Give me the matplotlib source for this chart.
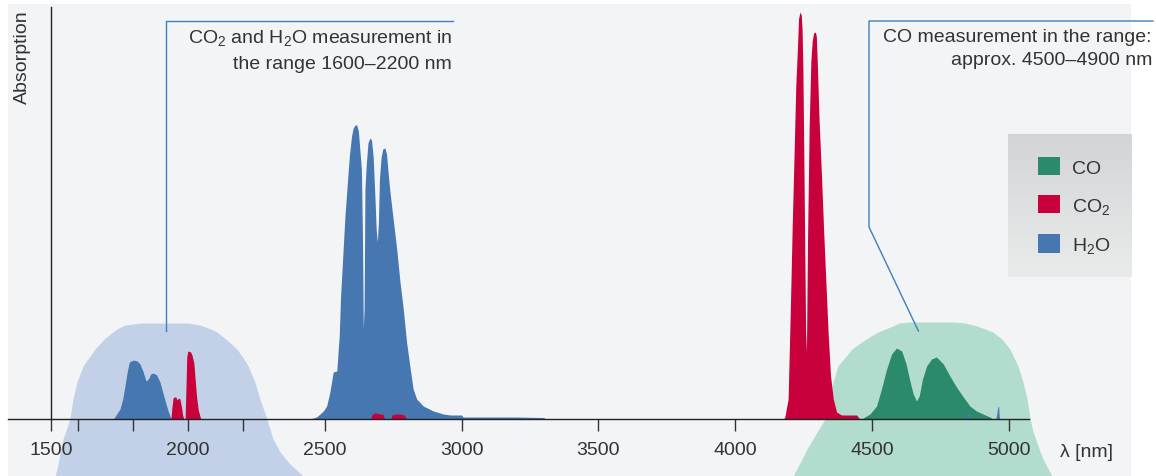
import numpy as np
import matplotlib
matplotlib.use("Agg")
import matplotlib.pyplot as plt
from matplotlib.patches import Rectangle, Patch
from matplotlib.colors import LinearSegmentedColormap

plt.rcParams['font.family'] = ['Liberation Sans', 'DejaVu Sans']
plt.rcParams['mathtext.fontset'] = 'custom'
plt.rcParams['mathtext.rm'] = 'Liberation Sans'
plt.rcParams['mathtext.default'] = 'regular'

# ---------------- data (wavelength in nm, absorption in arbitrary units) ----------------
h2o_wl = [1728, 1740, 1752, 1762, 1770, 1779, 1786, 1801, 1815, 1825, 1837, 1847, 1856, 1864,
          1874, 1886, 1898, 1908, 1918, 1929, 1938, 1941,
          2445, 2470, 2483, 2495, 2507, 2519, 2525, 2531, 2544, 2553, 2558, 2566, 2574, 2583,
          2590, 2598, 2604, 2611, 2617, 2623, 2629, 2634, 2638, 2641, 2644, 2647, 2652, 2658,
          2665, 2671, 2677, 2683, 2688, 2692, 2696, 2700, 2706, 2712, 2720, 2726, 2732, 2738,
          2750, 2763, 2775, 2787, 2799, 2811, 2823, 2836, 2860, 2897, 2933, 2960, 3000, 3005,
          3100, 3200, 3300, 3306,
          4685, 4688, 4691, 4782, 4788, 4793, 4842, 4848, 4851, 4855, 4894, 4899, 4903,
          4952, 4956, 4959, 4962, 4965]
h2o_abs = [0, 5, 10, 20, 33, 48, 57, 59, 58, 55, 47, 38, 40, 45,
           46, 44, 37, 27, 17, 7, 1, 0,
           0, 2, 5, 8, 13, 27, 37, 47, 48, 83, 123, 163, 203, 237,
           263, 283, 291, 294, 294, 288, 267, 250, 180, 90, 110, 230, 255, 276,
           281, 279, 262, 225, 190, 177, 195, 240, 262, 270, 271, 265, 245, 228,
           200, 170, 137, 110, 77, 53, 30, 20, 13, 8, 5, 4, 4, 2,
           2, 2, 1.5, 0,
           0, 2, 0, 0, 3, 0, 0, 5, 7, 0, 0, 6, 0,
           0, 6, 12, 13, 0]

co2_wl = [1938, 1942, 1946, 1951, 1956, 1961, 1966, 1971, 1976, 1981, 1985,
          1990, 1993, 1996, 2000, 2010, 2015, 2022, 2027, 2032, 2038, 2045, 2048,
          2668, 2672, 2680, 2690, 2700, 2712, 2719, 2742, 2746, 2760, 2775, 2790, 2799,
          4176, 4181, 4193, 4202, 4208, 4215, 4221, 4227, 4231, 4236, 4241, 4244, 4247, 4252,
          4257, 4260, 4264, 4270, 4276, 4281, 4286, 4292, 4296, 4300, 4306, 4315, 4323, 4331,
          4339, 4348, 4358, 4370, 4388, 4443, 4455]
co2_abs = [0, 12, 21, 22, 22, 19, 21, 20, 13, 4, 0,
           0, 30, 62, 68, 67, 64, 56, 38, 22, 9, 2, 0,
           0, 4, 6, 6, 5, 5, 0, 0, 4, 5, 5, 4, 0,
           0, 2, 20, 120, 193, 267, 333, 370, 400, 407, 404, 390, 350, 220,
           87, 67, 180, 293, 357, 378, 386, 387, 383, 353, 300, 243, 187, 137,
           87, 43, 20, 7, 4, 4, 0]

co_wl = [4461, 4492, 4516, 4534, 4553, 4571, 4589, 4608, 4624, 4638, 4650, 4662, 4672, 4684,
         4699, 4717, 4735, 4760, 4784, 4808, 4833, 4857, 4881, 4905, 4930, 4942]
co_abs = [0, 5, 13, 30, 50, 65, 71, 68, 55, 38, 25, 18, 23, 40,
          53, 60, 62, 55, 43, 32, 22, 13, 8, 5, 2, 0]

# measurement bands (outline: height, left / right wavelength)
blue_h = [96, 95, 94, 90, 87, 80, 70, 60, 53, 37, 20, 0, -20, -33, -45, -57]
blue_l = [1830, 1800, 1770, 1741, 1726, 1694, 1661, 1635, 1617, 1595, 1580, 1569, 1544, 1533, 1526, 1515]
blue_r = [2000, 2020, 2044, 2084, 2106, 2139, 2179, 2205, 2220, 2245, 2263, 2289, 2311, 2337, 2373, 2421]
green_h = [97, 96, 93, 87, 80, 70, 53, 37, 20, 0, -13, -30, -40, -57]
green_l = [4638, 4600, 4576, 4521, 4478, 4426, 4375, 4357, 4342, 4328, 4299, 4262, 4244, 4211]
green_r = [4795, 4840, 4883, 4941, 4974, 5003, 5033, 5051, 5066, 5077, 5088, 5110, 5124, 5157]

major_ticks = [1500, 2000, 2500, 3000, 3500, 4000, 4500, 5000]
minor_ticks = [1600, 1800, 2200]
legend_labels = ["CO", "CO$_2$", "H$_2$O"]

C_CO, C_CO2, C_H2O = '#2b8a6b', '#c8003c', '#4677b0'
C_BAND_B, C_BAND_G = '#c2d1e8', '#b2dccd'
C_LINE = '#3f7fc0'
C_TEXT = '#333333'

# ---------------- figure ----------------
W, H = 1156, 477
fig = plt.figure(figsize=(W / 100, H / 100), dpi=100)
fig.patch.set_facecolor('white')
fig.add_artist(Rectangle((8 / W, 0), (1131 - 8) / W, (H - 5) / H, transform=fig.transFigure,
                         facecolor='#f2f4f6', edgecolor='none', zorder=-10))

ax = fig.add_axes([0, 0, 1, 1])
ax.set_facecolor('none')
ax.set_xlim(1313.67, 5537.05)
ax.set_ylim(-57, 420)

ax.fill_betweenx(blue_h, blue_l, blue_r, color=C_BAND_B, lw=0, zorder=1)
ax.fill_betweenx(green_h, green_l, green_r, color=C_BAND_G, lw=0, zorder=1)

ax.fill_between(co_wl, 0, co_abs, color=C_CO, lw=0, zorder=2)
ax.fill_between(h2o_wl, 0, h2o_abs, color=C_H2O, lw=0, zorder=2.1)
ax.fill_between(co2_wl, 0, co2_abs, color=C_CO2, lw=0, zorder=2.2)

for s in ['top', 'right']:
    ax.spines[s].set_visible(False)
ax.spines['bottom'].set_position(('data', 0))
ax.spines['bottom'].set_bounds(1343, 5073)
ax.spines['left'].set_position(('data', 1500))
ax.spines['left'].set_bounds(0, 412)
for s in ['bottom', 'left']:
    ax.spines[s].set_color('#222222')
    ax.spines[s].set_linewidth(1.0)
    ax.spines[s].set_zorder(3)

ax.set_xticks(major_ticks)
ax.set_xticks(minor_ticks, minor=True)
ax.set_yticks([])
ax.tick_params(axis='x', which='both', direction='out', length=8.6, width=1.0,
               color='#333333', labelsize=14, labelcolor=C_TEXT, pad=7)

# callouts
ax.plot([1920, 1920, 2969], [88, 398, 398], color=C_LINE, lw=1.0, zorder=3)
ax.plot([4669, 4488.5, 4488.5, 5526], [88, 192, 398, 398], color=C_LINE, lw=1.0, zorder=3)

ax.text(2965, 377, "CO$_2$ and H$_2$O measurement in", ha='right', va='baseline',
        fontsize=14, color=C_TEXT)
ax.text(2965, 351, "the range 1600\u20132200 nm", ha='right', va='baseline',
        fontsize=14, color=C_TEXT)
ax.text(5522, 378, "CO measurement in the range:", ha='right', va='baseline',
        fontsize=14, color=C_TEXT)
ax.text(5522, 355, "approx. 4500\u20134900 nm", ha='right', va='baseline',
        fontsize=14, color=C_TEXT)

ax.text(5186, -37, "\u03bb [nm]", ha='left', va='baseline', fontsize=14, color=C_TEXT)
ax.text(1394, 410, "Absorption", rotation=90, ha='center', va='top', fontsize=14, color=C_TEXT)

# legend with gradient background
lax = fig.add_axes([1008 / W, (H - 278) / H, 124 / W, 143 / H])
cmap = LinearSegmentedColormap.from_list('g', ['#d2d4d6', '#e9ebeb'])
lax.imshow(np.linspace(0, 1, 100)[:, None], aspect='auto', cmap=cmap)
lax.axis('off')

fs_px = 14 * 100 / 72
handles = [Patch(facecolor=c, edgecolor='none') for c in (C_CO, C_CO2, C_H2O)]
fig.legend(handles, legend_labels, loc='upper left',
           bbox_to_anchor=(1028 / W, (H - 148) / H), bbox_transform=fig.transFigure,
           frameon=False, borderpad=0, handlelength=22 / fs_px, handleheight=21 / fs_px,
           handletextpad=12 / fs_px, labelspacing=0.95, fontsize=14, labelcolor=C_TEXT)

fig.savefig('out.png', dpi=100)
